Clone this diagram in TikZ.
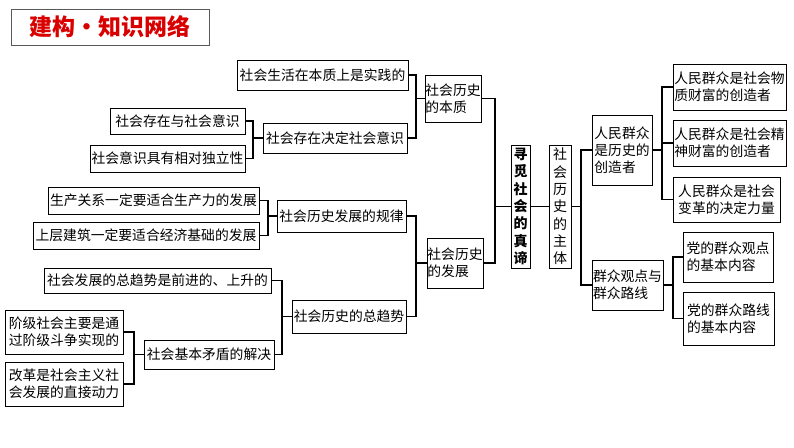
\documentclass[tikz,border=0pt]{standalone}
\usepackage{fontspec}
\setmainfont{Noto Sans CJK SC}
\begin{document}
\begin{tikzpicture}[x=1pt,y=-1pt,
  bx/.style={draw,line width=1pt,inner sep=0pt,align=center,font=\fontsize{13.8}{17}\selectfont},
  vt/.style={font=\fontsize{14}{17.3}\selectfont},
  ln/.style={line width=1.1pt}]
\useasboundingbox (0,0) rectangle (794,447);
\newcommand\bb[6]{\node[bx,minimum width=#4-#2,minimum height=#5-#3] (#1) at ({(#2+#4)/2},{(#3+#5)/2}) {#6};}
\node[draw=gray!70!black,line width=1pt,minimum width=198,minimum height=36,inner sep=0pt,text=red!85!black,font=\fontsize{23}{26}\selectfont\bfseries] (t) at (110,27) {建构·知识网络};
\bb{a1}{237}{60}{408}{90}{社会生活在本质上是实践的}
\bb{a2}{263}{123}{407}{153}{社会存在决定社会意识}
\bb{a3}{110}{108}{245}{134}{社会存在与社会意识}
\bb{a4}{90}{145}{245}{172}{社会意识具有相对独立性}
\bb{b}{425}{75}{481}{122}{社会历史\\的本质\phantom{史}}
\bb{c}{427}{238}{483}{288}{社会历史\\的发展\phantom{史}}
\node[bx,vt,minimum width=19,minimum height=123,font=\fontsize{14}{17.3}\selectfont\bfseries] (d) at (520.5,206.5) {寻\\觅\\社\\会\\的\\真\\谛};
\node[bx,vt,minimum width=22,minimum height=123] (e) at (560,206.5) {社\\会\\历\\史\\的\\主\\体};
\bb{f}{592}{115}{652}{185}{人民群众\\是历史的\\创造者\phantom{众}}
\bb{g1}{673}{64}{786}{110}{人民群众是社会物\\质财富的创造者\phantom{物}}
\bb{g2}{673}{120}{786}{166}{人民群众是社会精\\神财富的创造者\phantom{精}}
\bb{g3}{673}{177}{780}{222}{人民群众是社会\\变革的决定力量}
\bb{h}{592}{260}{663}{310}{群众观点与\\群众路线\phantom{与}}
\bb{i1}{683}{232}{773}{282}{党的群众观点\\的基本内容\phantom{点}}
\bb{i2}{683}{292}{774}{345}{党的群众路线\\的基本内容\phantom{线}}
\bb{c1}{277}{200}{406}{232}{社会历史发展的规律}
\bb{c2}{292}{300}{406}{333}{社会历史的总趋势}
\bb{l1}{48}{187}{259}{214}{生产关系一定要适合生产力的发展}
\bb{l2}{33}{222}{259}{249}{上层建筑一定要适合经济基础的发展}
\bb{l3}{44}{268}{271}{293}{社会发展的总趋势是前进的、上升的}
\bb{l4}{144}{340}{274}{369}{社会基本矛盾的解决}
\bb{l5}{5}{310}{123}{354}{阶级社会主要是通\\过阶级斗争实现的}
\bb{l6}{5}{362}{123}{406}{改革是社会主义社\\会发展的直接动力}
% brackets
\coordinate (kb) at (416,98.5);
\draw[ln] (a1.east) -| (kb) -- (b.west); \draw[ln] (a2.east) -| (kb);
\coordinate (ka) at (253,138);
\draw[ln] (a3.east) -| (ka) -- (a2.west); \draw[ln] (a4.east) -| (ka);
\coordinate (kd) at (495,206.5);
\draw[ln] (b.east) -| (kd) -- (d.west); \draw[ln] (c.east) -| (kd);
\draw[ln] (d.east) -- (e.west);
\coordinate (ke) at (581,206.5);
\draw[ln] (e.east) -- (ke) |- (f.west); \draw[ln] (ke) |- (h.west);
\coordinate (kf) at (662,150);
\draw[ln] (f.east) -- (kf) |- (g1.west); \draw[ln] (kf) |- (g2.west); \draw[ln] (kf) |- (g3.west);
\coordinate (kh) at (673,285);
\draw[ln] (h.east) -- (kh) |- (i1.west); \draw[ln] (kh) |- (i2.west);
\coordinate (kc1) at (268,216);
\draw[ln] (l1.east) -| (kc1) -- (c1.west); \draw[ln] (l2.east) -| (kc1);
\coordinate (kc) at (416,263);
\draw[ln] (c1.east) -| (kc) -- (c.west); \draw[ln] (c2.east) -| (kc);
\coordinate (kc2) at (282,316.5);
\draw[ln] (l3.east) -| (kc2) -- (c2.west); \draw[ln] (l4.east) -| (kc2);
\coordinate (kl4) at (134,354.5);
\draw[ln] (l5.east) -| (kl4) -- (l4.west); \draw[ln] (l6.east) -| (kl4);
\end{tikzpicture}
\end{document}
